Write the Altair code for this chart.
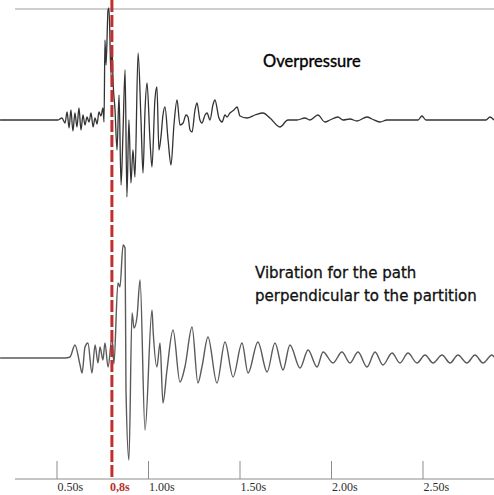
import altair as alt
import pandas as pd

# ---- data (time in s, amplitude in arbitrary units, + = up) ----
top_t = [0.189, 0.505, 0.527, 0.544, 0.555, 0.566, 0.576, 0.587, 0.598, 0.609, 0.620, 0.631,
         0.642, 0.653, 0.664, 0.675, 0.686, 0.697, 0.708, 0.719, 0.729, 0.740, 0.751, 0.757,
         0.762, 0.768, 0.779, 0.784, 0.795, 0.801, 0.806, 0.817, 0.828, 0.839, 0.850, 0.861,
         0.872, 0.882, 0.893,
         0.904, 0.915, 0.926, 0.943, 0.959, 0.970, 0.981, 0.992, 1.008, 1.019, 1.035, 1.046,
         1.057, 1.068, 1.079, 1.090, 1.107, 1.123, 1.139, 1.156, 1.172, 1.189, 1.205, 1.216,
         1.227, 1.238, 1.254, 1.265, 1.281, 1.292, 1.309, 1.320, 1.336, 1.352, 1.363, 1.385,
         1.402, 1.418, 1.429, 1.445, 1.467, 1.484, 1.500, 1.538, 1.582, 1.626, 1.664, 1.718,
         1.762, 1.811, 1.855, 1.882, 1.926, 1.964, 1.992, 2.035, 2.063, 2.101, 2.139, 2.194,
         2.221, 2.265, 2.303, 2.473, 2.494, 2.516, 2.844, 2.866, 2.888]
top_amp = [0, 0, 2, -3, 8, -8, 10, -11, 7, -7, 12, -10,
           5, -5, 3, -2, 7, -7, 2, -4, 8, 4, 12, -2,
           80, 55, 110, 112, 45, 70, 40, 10, -30, 25, -65, -10,
           50, -77, 0,
           -63, -30, -57, 67, 0, -53, 10, 37, -20, -47, 20, 33,
           -30, -17, 5, 13, -20, -45, -5, 20, -5, -3, 5, 3,
           -10, -12, 10, 17, 0, -3, 5, 7, 0, 15, 20, 2,
           -2, 5, 3, 7, 10, 13, 4, 2, 5, 7, 2, -7,
           0, 0, 2, 0, 5, -2, 0, 3, 0, 1, -1, 3,
           1, -2, 0, 0, 4, 0, 0, 3, 0]

bot_t = [0.189, 0.544, 0.571, 0.598, 0.626, 0.637, 0.653, 0.669, 0.691, 0.708, 0.724, 0.735,
         0.751, 0.762, 0.779, 0.801, 0.811, 0.833, 0.844, 0.861, 0.872, 0.877, 0.893, 0.910,
         0.921, 0.937, 0.954, 0.981, 1.019, 1.025, 1.046, 1.063, 1.079, 1.101, 1.134, 1.172,
         1.199, 1.238, 1.270, 1.292, 1.325, 1.374, 1.418, 1.462, 1.511, 1.544, 1.598, 1.648,
         1.691, 1.735, 1.773, 1.828, 1.872, 1.921, 1.954, 2.008, 2.057, 2.101, 2.145, 2.194,
         2.238, 2.281, 2.331, 2.374, 2.418, 2.467, 2.511, 2.555, 2.604, 2.648, 2.691, 2.740,
         2.784, 2.828, 2.877, 2.888]
bot_amp = [0, 0, 1, 13, -7, -15, 11, 15, -15, 13, -5, 11,
           -2, 15, -9, 21, -6, 75, 71, 113, 110, -32, -102, 45,
           30, 41, 78, -72, 48, 28, -9, 15, -45, -12, 28, -24,
           -9, 31, -25, -9, 21, -25, 16, -19, 15, -15, 16, -14,
           15, -12, 13, -10, 8, -9, 6, -5, 6, -5, 6, -9,
           6, -7, 5, -5, 5, -5, 3, -5, 3, -5, 3, -5,
           3, -5, 3, 1]

tick_values = [0.5, 1.0, 1.5, 2.0, 2.5]
marker_t = [0.8]
marker_label = "0,8s"
title_top = "Overpressure"
title_bottom = ["Vibration for the path", "perpendicular to the partition"]

W, H = 494, 479
x_scale = alt.Scale(domain=[0.1885, 2.888], nice=False, zero=False)
x_axis = alt.Axis(
    values=tick_values, labelExpr="format(datum.value, '.2f') + 's'", title=None,
    grid=False, ticks=False, tickSize=0, domain=False,
    labelAlign="left", labelBaseline="top", labelPadding=2,
    labelFont="Liberation Serif", labelFontSize=12, labelColor="#2e2e2e",
)

top_df = pd.DataFrame({"t": top_t, "v": top_amp})
bot_df = pd.DataFrame({"t": bot_t, "v": bot_amp})

top = alt.Chart(top_df).mark_line(color="#333333", strokeWidth=1.3, interpolate="monotone").encode(
    x=alt.X("t:Q", scale=x_scale, axis=x_axis),
    y=alt.Y("v:Q", scale=alt.Scale(domain=[-359, 120], nice=False, zero=False), axis=None),
)
bottom = alt.Chart(bot_df).mark_line(color="#5a5a5a", strokeWidth=1.4, interpolate="monotone").encode(
    x=alt.X("t:Q", scale=x_scale, axis=x_axis),
    y=alt.Y("v:Q", scale=alt.Scale(domain=[-121, 358], nice=False, zero=False), axis=None),
)

ticks = alt.Chart(pd.DataFrame({"t": tick_values})).mark_rule(color="#8c8c8c", strokeWidth=1).encode(
    x=alt.X("t:Q", scale=x_scale, axis=x_axis),
    y=alt.value(461), y2=alt.value(479),
)

baseline = alt.Chart(pd.DataFrame({"a": [0]})).mark_rule(color="#8c8c8c", strokeWidth=1).encode(
    x=alt.value(15), x2=alt.value(494), y=alt.value(479),
)

top_border = alt.Chart(pd.DataFrame({"a": [0]})).mark_rule(color="#a0a0a0", strokeWidth=1.2).encode(
    x=alt.value(15), x2=alt.value(494), y=alt.value(9),
)

marker_df = pd.DataFrame({"t": marker_t, "label": [marker_label]})
red_line = alt.Chart(marker_df).mark_rule(color="#c0302b", strokeWidth=3, strokeDash=[12, 3]).encode(
    x=alt.X("t:Q", scale=x_scale, axis=x_axis),
    y=alt.value(0), y2=alt.value(479),
)
red_label = alt.Chart(marker_df).mark_text(
    align="left", baseline="middle", dx=-2, font="Liberation Serif", fontSize=12,
    fontWeight="bold", color="#b8302b",
).encode(
    x=alt.X("t:Q", scale=x_scale, axis=x_axis),
    y=alt.value(487), text="label:N",
)

txt_top = alt.Chart(pd.DataFrame({"a": [0]})).mark_text(
    align="left", baseline="middle", font="Lato", fontSize=16.5, color="#000000",
    stroke="#000000", strokeWidth=0.35,
).encode(x=alt.value(263), y=alt.value(62), text=alt.value(title_top))

txt_bot = alt.Chart(pd.DataFrame({"a": [0]})).mark_text(
    align="left", baseline="middle", font="DejaVu Sans", fontSize=15, color="#111111",
    lineHeight=23, stroke="#111111", strokeWidth=0.3,
).encode(x=alt.value(255), y=alt.value(273), text=alt.value(title_bottom))

chart = alt.layer(
    top_border, baseline, ticks, top, bottom, red_line, red_label, txt_top, txt_bot
).resolve_scale(y="independent").properties(
    width=W, height=H, autosize=alt.AutoSizeParams(type="none"),
    padding={"left": 0, "top": 0, "right": 0, "bottom": 16},
    background="white",
).configure_view(stroke=None)

chart.save("out.html", embed_options={"renderer": "svg", "actions": False})
